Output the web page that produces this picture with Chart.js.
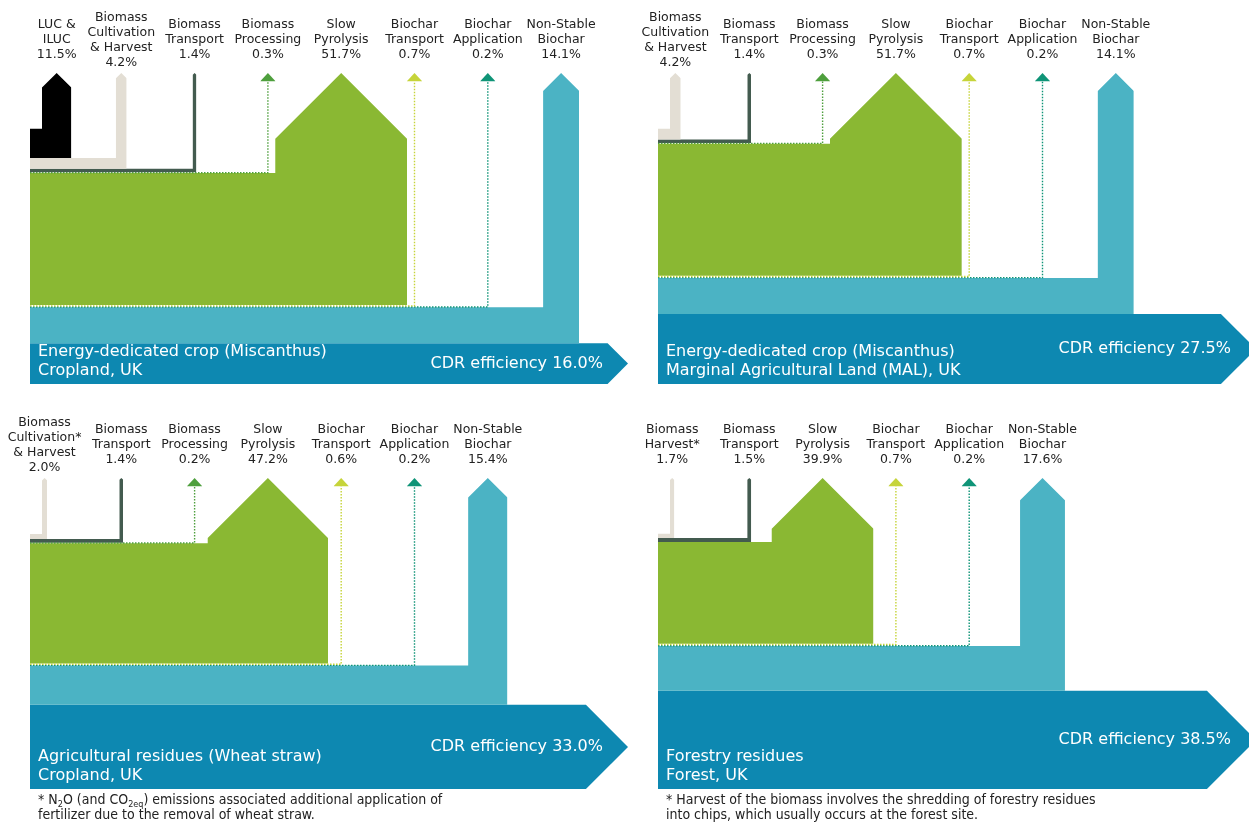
<!DOCTYPE html>
<html>
<head>
<meta charset="utf-8">
<script src="https://cdn.jsdelivr.net/npm/chart.js@4.4.1/dist/chart.umd.min.js"></script>
<style>
  html, body { margin: 0; padding: 0; background: #fff; overflow: hidden; }
  body { width: 1249px; height: 822px; position: relative; font-family: "DejaVu Sans", sans-serif; }
  .panel { position: absolute; width: 630px; height: 400px; }
  .note { position: absolute; font-family: "DejaVu Sans Condensed", "DejaVu Sans", sans-serif; font-stretch: condensed;
          font-size: 14px; line-height: 15px; color: #222; white-space: nowrap; }
  .note sub { font-size: 9px; vertical-align: -3px; line-height: 0; }
</style>
</head>
<body>
<div class="panel" style="left:0;top:0"><canvas id="p1"></canvas></div>
<div class="panel" style="left:628px;top:0"><canvas id="p2"></canvas></div>
<div class="panel" style="left:0;top:405px"><canvas id="p3"></canvas></div>
<div class="panel" style="left:628px;top:405px"><canvas id="p4"></canvas></div>
<div class="note" style="left:38px;top:792px">* N<sub>2</sub>O (and CO<sub>2eq</sub>) emissions associated additional application of<br>fertilizer due to the removal of wheat straw.</div>
<div class="note" style="left:666px;top:792px">* Harvest of the biomass involves the shredding of forestry residues<br>into chips, which usually occurs at the forest site.</div>
<script>
// Each panel: stages in flow order (also top-to-bottom order of the stack at the left),
// their share of the removed carbon in %, and the remaining CDR efficiency.
const stagesCropland = ["LUC &\nILUC", "Biomass\nCultivation\n& Harvest", "Biomass\nTransport", "Biomass\nProcessing",
                        "Slow\nPyrolysis", "Biochar\nTransport", "Biochar\nApplication", "Non-Stable\nBiochar"];
const valuesCropland = [11.5, 4.2, 1.4, 0.3, 51.7, 0.7, 0.2, 14.1];
const cdrCropland = 16.0;
const titleCropland = ["Energy-dedicated crop (Miscanthus)", "Cropland, UK"];

const stagesMal = ["Biomass\nCultivation\n& Harvest", "Biomass\nTransport", "Biomass\nProcessing",
                   "Slow\nPyrolysis", "Biochar\nTransport", "Biochar\nApplication", "Non-Stable\nBiochar"];
const valuesMal = [4.2, 1.4, 0.3, 51.7, 0.7, 0.2, 14.1];
const cdrMal = 27.5;
const titleMal = ["Energy-dedicated crop (Miscanthus)", "Marginal Agricultural Land (MAL), UK"];

const stagesStraw = ["Biomass\nCultivation*\n& Harvest", "Biomass\nTransport", "Biomass\nProcessing",
                     "Slow\nPyrolysis", "Biochar\nTransport", "Biochar\nApplication", "Non-Stable\nBiochar"];
const valuesStraw = [2.0, 1.4, 0.2, 47.2, 0.6, 0.2, 15.4];
const cdrStraw = 33.0;
const titleStraw = ["Agricultural residues (Wheat straw)", "Cropland, UK"];

const stagesForest = ["Biomass\nHarvest*", "Biomass\nTransport", "Slow\nPyrolysis",
                      "Biochar\nTransport", "Biochar\nApplication", "Non-Stable\nBiochar"];
const valuesForest = [1.7, 1.5, 39.9, 0.7, 0.2, 17.6];
const cdrForest = 38.5;
const titleForest = ["Forestry residues", "Forest, UK"];

const stageColors = {
  "LUC &\nILUC": "#000000",
  "Biomass\nCultivation\n& Harvest": "#e3ded4",
  "Biomass\nCultivation*\n& Harvest": "#e3ded4",
  "Biomass\nHarvest*": "#e3ded4",
  "Biomass\nTransport": "#435b4f",
  "Biomass\nProcessing": "#4e9f3d",
  "Slow\nPyrolysis": "#8ab833",
  "Biochar\nTransport": "#c6d43a",
  "Biochar\nApplication": "#0f9477",
  "Non-Stable\nBiochar": "#4bb3c4"
};
const cdrColor = "#0d88b1";

// layout (pixels -> % units, same scale on both axes)
const UNIT = 2.55;
const AREA_W = 599, AREA_H = 312;
const TIP = 122;
const TIP_X = 598 / UNIT;
const EDGE = 12 / UNIT;
const X0 = 18 / UNIT, SLOT = 73.3 / UNIT;
const HEAD = 3.3, HEAD_W = 3.0;
const THIN = 1;

function columnCenters(values) {
  return values.map((v, i) => i === 0 ? EDGE + v / 2 : X0 + i * SLOT);
}

function buildDatasets(stages, values, cdr) {
  const sets = [];
  const centers = columnCenters(values);
  let base = cdr + values.reduce((a, b) => a + b, 0);
  stages.forEach((lab, i) => {
    const v = values[i];
    base -= v;
    const top = base + v;
    const cx = centers[i];
    const color = stageColors[lab];
    if (v < THIN) {
      const y = base + v / 2;
      sets.push({ data: [{x: 0, y: y}, {x: cx, y: y}, {x: cx, y: TIP - HEAD}],
                  borderColor: color, borderWidth: 1.4, borderDash: [1.5, 1.5], fill: false, order: 0 });
      sets.push({ data: [{x: cx - HEAD_W, y: TIP - HEAD}, {x: cx, y: TIP}, {x: cx + HEAD_W, y: TIP - HEAD}],
                  backgroundColor: color, borderWidth: 0, fill: {value: TIP - HEAD}, order: 0 });
    } else {
      const l = cx - v / 2, r = cx + v / 2;
      sets.push({ data: [{x: 0, y: top}, {x: l, y: top}, {x: l, y: TIP - v / 2}, {x: cx, y: TIP},
                         {x: r, y: TIP - v / 2}, {x: r, y: base}],
                  backgroundColor: color, borderWidth: 0, fill: {value: base}, order: 1 });
    }
  });
  // CDR efficiency arrow
  const hs = TIP_X - cdr / 2;
  sets.push({ data: [{x: 0, y: cdr}, {x: hs, y: cdr}, {x: TIP_X, y: cdr / 2}],
              backgroundColor: cdrColor, borderWidth: 0, fill: '+1', order: 2 });
  sets.push({ data: [{x: 0, y: 0}, {x: hs, y: 0}, {x: TIP_X, y: cdr / 2}],
              borderWidth: 0, fill: false, order: 2 });
  return sets;
}

const flowText = {
  id: 'flowText',
  afterDraw(chart, args, opts) {
    const {ctx, chartArea, scales: {x, y}} = chart;
    const centers = columnCenters(opts.values);
    ctx.save();
    ctx.fillStyle = '#222222';
    ctx.font = '12.5px "DejaVu Sans"';
    ctx.textAlign = 'center';
    ctx.textBaseline = 'middle';
    opts.stages.forEach((lab, i) => {
      const lines = lab.split('\n').concat(opts.values[i].toFixed(1) + '%');
      const px = x.getPixelForValue(centers[i]);
      const mid = chartArea.top - 32;
      lines.forEach((t, k) => ctx.fillText(t, px, mid + (k - (lines.length - 1) / 2) * 15));
    });
    ctx.fillStyle = '#ffffff';
    ctx.font = '16px "DejaVu Sans"';
    ctx.textAlign = 'left';
    const bottom = y.getPixelForValue(0) - 13;
    opts.title.forEach((t, k) => ctx.fillText(t, chartArea.left + 8, bottom - (opts.title.length - 1 - k) * 19));
    ctx.textAlign = 'right';
    ctx.fillText('CDR efficiency ' + opts.cdr.toFixed(1) + '%', x.getPixelForValue(TIP_X) - 25, y.getPixelForValue(opts.cdr / 2));
    ctx.restore();
  }
};

function makePanel(id, stages, values, cdr, title) {
  new Chart(document.getElementById(id), {
    type: 'line',
    data: { datasets: buildDatasets(stages, values, cdr) },
    options: {
      responsive: true,
      maintainAspectRatio: false,
      animation: false,
      events: [],
      layout: { padding: { left: 30, right: 1, top: 72, bottom: 16 } },
      elements: { point: { radius: 0 }, line: { tension: 0 } },
      scales: {
        x: { type: 'linear', min: 0, max: AREA_W / UNIT, display: false },
        y: { type: 'linear', min: 0, max: AREA_H / UNIT, display: false }
      },
      plugins: {
        legend: { display: false },
        tooltip: { enabled: false },
        flowText: { stages: stages, values: values, cdr: cdr, title: title }
      }
    },
    plugins: [flowText]
  });
}

makePanel('p1', stagesCropland, valuesCropland, cdrCropland, titleCropland);
makePanel('p2', stagesMal, valuesMal, cdrMal, titleMal);
makePanel('p3', stagesStraw, valuesStraw, cdrStraw, titleStraw);
makePanel('p4', stagesForest, valuesForest, cdrForest, titleForest);
</script>
</body>
</html>
